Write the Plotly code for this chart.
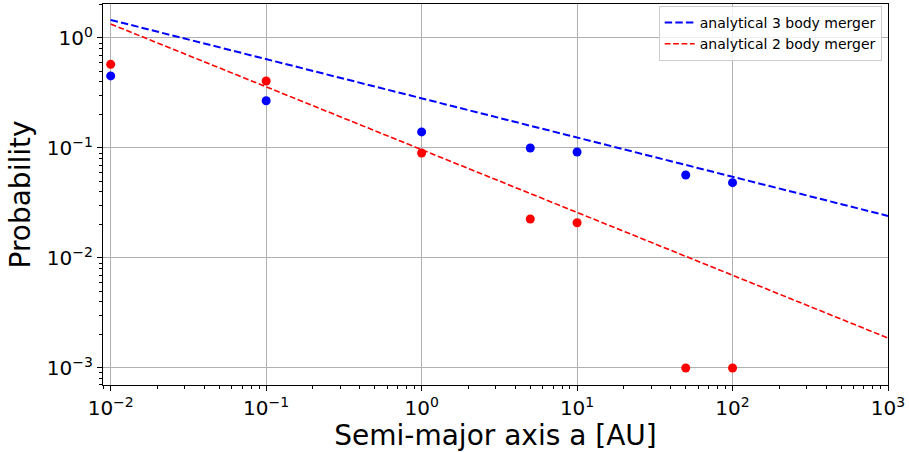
import numpy as np
import plotly.graph_objects as go

# Simulated merger probabilities versus semi-major axis
semi_major_axis = [0.01, 0.1, 1, 5, 10, 50, 100]
prob_three_body = [0.452, 0.269, 0.140, 0.100, 0.092, 0.0568, 0.0484]
prob_two_body = [0.576, 0.406, 0.090, 0.0226, 0.0209, 0.001, 0.001]

# Analytical power-law predictions (straight lines in log-log space)
analytic_x = [0.01, 1000]
analytic_three_body = [1.46, 0.0241]
analytic_two_body = [1.34, 0.00187]

x_major = [1e-2, 1e-1, 1e0, 1e1, 1e2, 1e3]
x_major_text = ["10<sup>−2</sup>", "10<sup>−1</sup>", "10<sup>0</sup>",
                "10<sup>1</sup>", "10<sup>2</sup>", "10<sup>3</sup>"]
y_major = [1e-3, 1e-2, 1e-1, 1e0]
y_major_text = ["10<sup>−3</sup>", "10<sup>−2</sup>", "10<sup>−1</sup>", "10<sup>0</sup>"]

x_minor = [m * 10.0 ** e for e in range(-3, 3) for m in range(2, 10)]
y_minor = [m * 10.0 ** e for e in range(-4, 1) for m in range(2, 10)]

FONT = "DejaVu Sans"

fig = go.Figure()
fig.add_trace(go.Scatter(
    x=analytic_x, y=analytic_three_body, mode="lines",
    name="analytical 3 body merger",
    line=dict(color="blue", width=2, dash="7.4px,3.2px"),
))
fig.add_trace(go.Scatter(
    x=analytic_x, y=analytic_two_body, mode="lines",
    name="analytical 2 body merger",
    line=dict(color="red", width=1.6, dash="5.8px,2.6px"),
))
fig.add_trace(go.Scatter(
    x=semi_major_axis, y=prob_three_body, mode="markers",
    marker=dict(color="blue", size=9), showlegend=False,
))
fig.add_trace(go.Scatter(
    x=semi_major_axis, y=prob_two_body, mode="markers",
    marker=dict(color="red", size=9), showlegend=False,
))

axis_common = dict(
    type="log",
    showline=True, linecolor="black", linewidth=1.1, mirror=True,
    ticks="outside", ticklen=5, tickwidth=1.1, tickcolor="black",
    showgrid=True, gridcolor="#b0b0b0", gridwidth=1.1,
    zeroline=False,
    tickfont=dict(family=FONT, size=20, color="black"),
    tickmode="array",
)

fig.update_xaxes(
    **axis_common,
    range=[np.log10(0.01) - 0.0495, 3.0],
    tickvals=x_major, ticktext=x_major_text,
    minor=dict(tickmode="array", tickvals=x_minor, ticks="outside",
               ticklen=3, tickwidth=0.8, tickcolor="black", showgrid=False),
    title=dict(text="Semi-major axis a [AU]", standoff=6,
               font=dict(family=FONT, size=28, color="black")),
)
fig.update_yaxes(
    **axis_common,
    range=[-3.155, 0.309],
    tickvals=y_major, ticktext=y_major_text,
    minor=dict(tickmode="array", tickvals=y_minor, ticks="outside",
               ticklen=3, tickwidth=0.8, tickcolor="black", showgrid=False),
    title=dict(text="Probability", standoff=8,
               font=dict(family=FONT, size=28, color="black")),
)

fig.update_layout(
    width=909, height=452,
    margin=dict(l=103, r=21, t=4, b=67),
    plot_bgcolor="white", paper_bgcolor="white",
    font=dict(family=FONT, color="black"),
    legend=dict(
        x=0.992, y=0.995, xanchor="right", yanchor="top",
        bgcolor="rgba(255,255,255,0.8)", bordercolor="#cccccc", borderwidth=1,
        font=dict(family=FONT, size=14, color="black"),
        itemwidth=30, tracegroupgap=0,
    ),
)

fig.write_html("out.html")
